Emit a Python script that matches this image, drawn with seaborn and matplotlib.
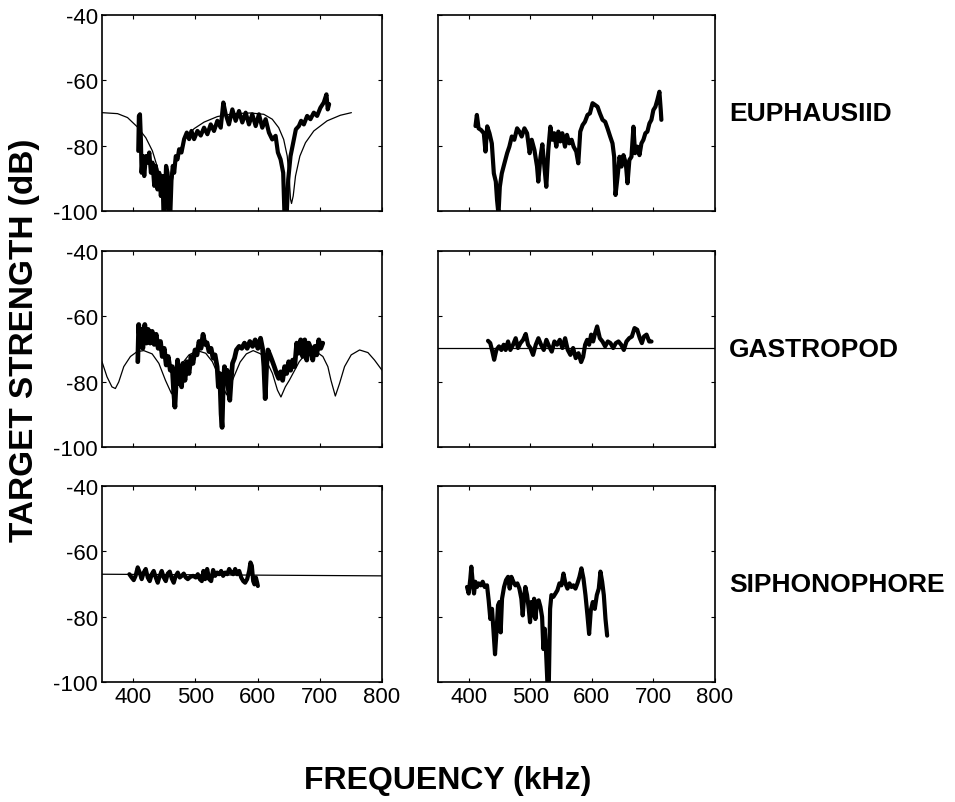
import matplotlib
matplotlib.use("Agg")
import matplotlib.pyplot as plt
import seaborn as sns
import pandas as pd

# ---- data (frequency kHz, target strength dB) ----
# euphausiid: model curve (thin) and measured echo (thick), left panel
euph_model_f = [350, 375, 391, 407, 420.5, 431, 440, 447, 451.5, 455, 458, 461.7, 467, 475.6,
                484.7, 498, 514, 535.4, 562, 589, 610, 623.6, 634, 642, 647.7, 651, 653,
                654.6, 657.3, 661, 668, 677, 690.4, 711.8, 733, 750.8]
euph_model_db = [-69.9, -70.2, -71.4, -74.3, -77.6, -81.6, -87.2, -93.9, -100, -106, -100, -92.3,
                 -86.2, -81.1, -77.6, -74.8, -72.8, -71.1, -70.2, -70, -70.4, -71.9, -74.5, -78.1,
                 -83.2, -90.3, -96.4, -97.7, -95.4, -89.3, -83.2, -79.1, -75.5, -72.4, -70.7, -69.9]

euph_a_f = [408.3, 409.3, 411, 412.5, 413.6, 415.7, 417.9, 420.5, 423, 426, 428.6, 431.2, 434,
            436.6, 439.2, 442, 444.6, 447.3, 449, 451, 453, 455.3, 457, 459.6, 461.7, 463.8, 466,
            468.6, 471.3, 474, 477.7, 482, 486.3, 490, 493.8, 498, 503.4, 508.7, 514, 519.4,
            524.7, 530, 535.4, 540.8, 545, 548.8, 554, 559.5, 564.8, 570.2, 575.5, 580.9, 586.2,
            591.5, 597, 602.2, 607.6, 613, 618.3, 623.6, 629, 632.7, 637, 641.2, 643.4, 646.6,
            649.3, 653, 657.3, 661.6, 666.4, 670, 674.4, 679.7, 685, 690.4, 695.7, 701, 706.4,
            710.7, 712.8, 715]
euph_a_db = [-81.6, -70.9, -70.4, -78, -88.3, -83.2, -89.3, -83.2, -85.2, -82.1, -88.3, -85.2,
             -92.3, -86.2, -93.4, -88.3, -95.4, -89.3, -102, -96.4, -86.2, -88.3, -102, -102,
             -90.3, -86.2, -88.3, -83.2, -84.2, -81.1, -82.1, -78, -76, -78, -75.5, -78, -75.5,
             -76.9, -74.5, -76.5, -73.5, -75.5, -72.4, -74.5, -66.8, -70.4, -73.5, -68.9, -72.4,
             -69.4, -72.9, -69.9, -73.5, -70.4, -74, -70.4, -74.5, -71.9, -76, -78.1, -77, -82.1,
             -84.2, -88.3, -102, -102, -90.3, -83.2, -79.1, -75, -74, -72.4, -73.5, -70.9, -71.9,
             -69.9, -70.9, -68.4, -66.8, -64.3, -68.9, -67.3]

# euphausiid: second measurement, right panel
euph_b_f = [411, 413.2, 416, 420, 424.5, 427.2, 430, 433.7, 437.5, 440.8, 444, 446, 448.3, 450.5,
            453.7, 458, 462.4, 466, 470, 474, 478.6, 482.3, 486, 490.5, 494.8, 499, 502.3, 506.7,
            511, 513, 516.4, 519.6, 522.9, 526, 529.3, 532.6, 535.8, 539, 542.3, 545.6, 548.8,
            552, 556.4, 559.6, 563.4, 567.2, 570.4, 574.7, 578, 581.2, 585, 588.8, 593, 596.9,
            601.2, 605, 609.3, 613.1, 617.4, 621.7, 625.5, 629.8, 633.6, 636.3, 638.5, 641.8,
            645, 648.2, 651.4, 655.2, 658, 661, 664.4, 667.6, 670.3, 674, 677.4, 680.6, 683.8,
            687, 690.3, 693.6, 696.8, 700, 703.3, 706.5, 709.8, 712, 713]
euph_b_db = [-74, -70.6, -74.7, -75.2, -76.2, -81.8, -74.1, -76.2, -79.3, -88.5, -91, -96.6,
             -101, -92.6, -88.5, -85.4, -82.3, -80.3, -77.2, -78.2, -74.7, -75.7, -77.2, -74.7,
             -76.2, -82.3, -78.2, -81.3, -86.4, -91, -83.7, -79.6, -86.4, -92.6, -81.3, -74.2,
             -78.2, -76.2, -80.3, -75.7, -78.7, -76.2, -80.3, -76.7, -79.3, -78.2, -80.3, -81.8,
             -85.4, -75.7, -73.7, -72.7, -70.6, -70.1, -67, -67.5, -68.1, -70.1, -72.1, -72.7,
             -74.7, -77.2, -79.3, -83.4, -95.1, -89.5, -83.4, -86.4, -82.9, -85.4, -91.5, -84.4,
             -83.4, -74.2, -82.3, -80.3, -82.9, -79.3, -78.2, -76.2, -75.7, -73.2, -72.1, -69.1,
             -68.1, -66, -63.5, -69.1, -72.1]

# gastropod: model curve (thin) and measured echo (thick)
gast_model_f = [350, 358, 366, 371.5, 376.9, 385, 395.7, 406.5, 417.2, 430.6, 441.4, 452, 461.8,
                469.3, 479, 489.8, 503.2, 516.7, 527.4, 538, 550, 562, 572, 582, 593, 605, 614,
                624, 632, 637.6, 644.6, 651, 667, 681, 694, 705, 713, 718, 725, 731.7, 739.8,
                750.5, 764, 777.4, 788, 800]
gast_model_db = [-73.9, -78.5, -81.6, -82.1, -80.1, -75.4, -72.3, -70.8, -70.5, -71.5, -74.4,
                 -79.6, -83.7, -79.6, -74.4, -71.8, -70.5, -71.3, -73.9, -78.5, -84, -78.5, -74,
                 -71.5, -70.5, -71.5, -73.5, -77.5, -82.6, -84.7, -81.6, -79.6, -73.9, -70.6,
                 -70.8, -72.3, -75.4, -79.6, -84.4, -80.6, -75.4, -71.8, -70.3, -71.1, -73.4,
                 -76.5]

gast_a_f = [407.5, 409, 411.3, 413.4, 415.6, 418.8, 421.5, 424.2, 427.4, 430.6, 433.9, 437,
            440.3, 444, 446.8, 450, 453.2, 456.4, 459.7, 462.9, 465, 467.2, 469.3, 471.5, 473.6,
            475.8, 477.9, 480.1, 483.3, 486.6, 489.8, 493, 496.2, 499.5, 502.7, 505.9, 509.1,
            512.4, 515.6, 518.8, 522, 525.3, 528.5, 531.7, 535, 537, 539.2, 541.4, 543, 544.6,
            546.8, 549, 551, 553.2, 555.4, 557.5, 559.7, 563, 566, 570.4, 574.7, 579, 583.3,
            587.6, 592, 596.2, 600.5, 604.8, 608, 610.2, 612.3, 614.5, 616.7, 619.9, 623.1,
            626.9, 630.6, 633.9, 637, 640.3, 643.5, 646.8, 650, 653.2, 656.4, 659.7, 662.9,
            666.1, 669.3, 672.6, 675.8, 679, 682.2, 685.5, 688.7, 692, 695.1, 698.4, 701.6, 704.8]
gast_a_db = [-73.9, -62.5, -69.2, -64, -69.8, -62.5, -68.2, -64, -68.2, -64.6, -68.6, -65.5,
             -69.8, -67.7, -72.3, -69.8, -74.9, -72.3, -76.5, -75.4, -82.6, -87.8, -79.6, -73.4,
             -80.6, -75.4, -81.6, -74.4, -79.6, -73.9, -77.5, -72.3, -74.4, -70.3, -71.8, -67.7,
             -69.8, -65.5, -68.6, -68.1, -70.8, -69.8, -72.8, -71.8, -75.4, -81.6, -77.5, -89.9,
             -94, -82.6, -75.4, -78.5, -76.5, -82.6, -85.7, -79.6, -74.4, -72.8, -70.3, -69.2,
             -69.8, -68.2, -69.8, -67.7, -69.2, -67.2, -69.8, -66.7, -69.8, -75.4, -85.2, -75.4,
             -70.3, -71.8, -73.4, -75.4, -77.5, -79, -77, -79.6, -75.4, -77.5, -73.9, -76.5,
             -73.4, -75.4, -68.2, -71.3, -67.2, -72.3, -67.2, -73.4, -68.2, -69.8, -73.4, -69.2,
             -71.8, -67.2, -69.8, -68.2]

gast_b_level = -69.7
gast_b_f = [431.3, 435, 438.4, 441.3, 444.9, 449.2, 453, 456.8, 460, 463.9, 467.6, 472, 476.3,
            480, 484, 488.3, 492.6, 496.4, 500.2, 504.5, 508.9, 513.2, 517.5, 521.9, 526.2,
            530.6, 534.9, 539.2, 543.6, 547.9, 552.2, 556.6, 560.9, 565.2, 569.6, 573.9, 578.3,
            582.6, 585.9, 589.1, 592.4, 595.6, 598.9, 602.1, 605.4, 608.6, 613, 617.3, 621.6,
            626, 630.3, 634.7, 639, 643.3, 647.7, 652, 656.3, 660.7, 665, 669.4, 673.7, 678,
            681.3, 684.6, 688.9, 693.2, 697]
gast_b_db = [-67.5, -68.2, -70.8, -73.3, -70.3, -69.2, -70.3, -68.7, -70.3, -67.7, -70.3, -68.7,
             -66.7, -69.7, -68.2, -67.2, -65.4, -68.7, -69.7, -71.8, -68.7, -66.7, -68.7, -70.3,
             -67.2, -69.2, -70.8, -67.7, -68.7, -67.2, -69.7, -66.7, -70.3, -71.8, -69.7, -72.8,
             -71.3, -74, -72.4, -68.7, -67.2, -68.7, -65.6, -67.7, -65.1, -63.1, -66.7, -67.7,
             -69.2, -67.7, -68.2, -69.7, -68.2, -67.7, -68.7, -70.3, -67.7, -66.7, -66.2, -63.6,
             -64.1, -66.7, -68.2, -66.2, -65.6, -67.7, -67.7]

# siphonophore: model level (thin) and measured echo (thick)
siph_model_f = [350, 800]
siph_model_db = [-67.0, -67.5]

siph_a_f = [394, 397.7, 401, 404, 407.4, 410.6, 413.8, 417, 420.3, 423.5, 426.7, 430, 433.1,
            436.4, 439.6, 442.8, 446, 449.2, 452.5, 455.7, 458.9, 462.1, 465.3, 468.5, 471.8, 475,
            478.2, 481.4, 484.6, 487.9, 492, 496.4, 500.7, 504, 507.2, 510.4, 513, 515.7, 519,
            522.2, 525.4, 528.6, 531.8, 535, 538.3, 541.5, 544.7, 548, 551.2, 554.4, 557.6,
            560.8, 564, 567.2, 570.5, 573.7, 577, 580, 583.3, 586.5, 588.6, 590.8, 593, 595,
            597.3, 599.4, 600.5]
siph_a_db = [-67, -68, -68.8, -67.5, -64.9, -66.5, -68.5, -66.5, -65.4, -68, -69.1, -67, -66,
             -68, -69.6, -67.5, -66, -68, -69.1, -66.8, -66.2, -68.3, -69.6, -67.5, -66.5, -68,
             -67.5, -66.8, -68, -68.5, -67.8, -67.5, -68, -67, -68.5, -69.1, -66, -68.5, -65.4,
             -68.5, -69.1, -65.7, -67.5, -66.5, -67, -66, -67.5, -66.5, -67, -65.4, -66.5, -67,
             -65.4, -67, -66, -68, -69.1, -69.6, -68.5, -66, -63.4, -64.4, -69.1, -70.1, -68,
             -69.6, -70.6]

siph_b_f = [397.2, 399.9, 402.6, 404.2, 406.4, 408.6, 410.7, 413.4, 416.1, 419.4, 422.7, 425.9,
            429.7, 432.4, 435.1, 437.8, 440, 442.7, 445.4, 447.6, 449.8, 451.9, 454.1, 457.4,
            460.6, 463.9, 466.6, 469.3, 472.5, 475.8, 479, 482.3, 485.5, 487.7, 489.9, 492,
            494.8, 497.5, 499.6, 501.8, 504, 506.2, 508.3, 511, 513.7, 516.5, 519.2, 521.3,
            523.5, 525.7, 527.8, 530, 532.2, 534.3, 537.6, 540.9, 544.1, 547.4, 550.6, 553.9,
            557.1, 560.4, 563.6, 566.9, 570.1, 573.4, 576.6, 579.9, 583.1, 586.4, 589.7, 592.9,
            595.6, 598.3, 601.6, 604.8, 608.1, 611.3, 614, 616.8, 619.5, 622.2, 624.9]
siph_b_db = [-70.9, -72.9, -68.3, -64.7, -69.3, -72.9, -69.3, -70.9, -69.8, -70.4, -69.3, -70.9,
             -70.4, -75, -80.7, -77.6, -83.7, -91.5, -83.7, -76.5, -75.5, -84.8, -74.5, -70.9,
             -68.8, -67.8, -71.4, -67.8, -69.3, -70.4, -69.8, -71.4, -74.5, -79.6, -74, -70.9,
             -73.4, -77.6, -81.7, -75.5, -79.6, -74.5, -80.7, -75.5, -75, -77, -80.1, -89.9,
             -83.7, -91, -100.2, -102, -77.6, -73.4, -73.9, -72.9, -71.9, -69.8, -70.4, -66.8,
             -69.8, -71.4, -69.8, -70.9, -70.4, -71.4, -69.8, -67.8, -65.2, -68.3, -73.4, -79.6,
             -85.3, -78.1, -75.5, -77.6, -73.4, -71.4, -66.2, -69.3, -73.4, -80.7, -85.8]

row_names = ["EUPHAUSIID", "GASTROPOD", "SIPHONOPHORE"]
x_ticks = [400, 500, 600, 700, 800]
y_ticks = [-40, -60, -80, -100]

# ---- figure ----
sns.set_style("ticks")
plt.rcParams["font.family"] = ["Liberation Sans", "DejaVu Sans"]
plt.rcParams["axes.unicode_minus"] = False
plt.rcParams["text.color"] = "black"

fig = plt.figure(figsize=(9.55, 8.03), dpi=100)

col_left = [0.1068, 0.4586]
col_width = [0.2932, 0.2900]
row_bottom = [0.7360, 0.4421, 0.1494]
row_height = 0.2441

# each panel: list of (x, y, linewidth)
panels = {
    (0, 0): [(euph_model_f, euph_model_db, 0.9), (euph_a_f, euph_a_db, 3.0)],
    (0, 1): [(euph_b_f, euph_b_db, 3.0)],
    (1, 0): [(gast_model_f, gast_model_db, 0.9), (gast_a_f, gast_a_db, 3.4)],
    (1, 1): [([350, 800], [gast_b_level, gast_b_level], 0.9), (gast_b_f, gast_b_db, 3.0)],
    (2, 0): [(siph_model_f, siph_model_db, 0.9), (siph_a_f, siph_a_db, 3.0)],
    (2, 1): [(siph_b_f, siph_b_db, 3.0)],
}

for (r, c), lines in panels.items():
    ax = fig.add_axes([col_left[c], row_bottom[r], col_width[c], row_height])
    for xs, ys, lw in lines:
        df = pd.DataFrame({"f": xs, "ts": ys})
        sns.lineplot(data=df, x="f", y="ts", ax=ax, color="black", linewidth=lw,
                     estimator=None, sort=False)
    ax.set_xlim(350, 800)
    ax.set_ylim(-100, -40)
    ax.set_xticks(x_ticks)
    ax.set_yticks(y_ticks)
    ax.set_xlabel("")
    ax.set_ylabel("")
    ax.tick_params(direction="in", length=3, width=0.8, top=True, right=True,
                   labelsize=16, pad=3, colors="black")
    for s in ax.spines.values():
        s.set_color("black")
        s.set_linewidth(1.2)
    if c == 1:
        ax.tick_params(labelleft=False)
    if r < 2:
        ax.tick_params(labelbottom=False)
    if c == 1:
        ax.text(1.05, 0.5, row_names[r], transform=ax.transAxes, fontsize=19,
                fontweight="bold", va="center", ha="left", color="black")

fig.text(25 / 955, 1 - 340 / 803, "TARGET STRENGTH (dB)", rotation=90, fontsize=24,
         fontweight="bold", ha="center", va="center", color="black")
fig.text(448 / 955, 1 - 781 / 803, "FREQUENCY (kHz)", fontsize=23,
         fontweight="bold", ha="center", va="center", color="black")

fig.savefig("out.png", dpi=100, facecolor="white")
